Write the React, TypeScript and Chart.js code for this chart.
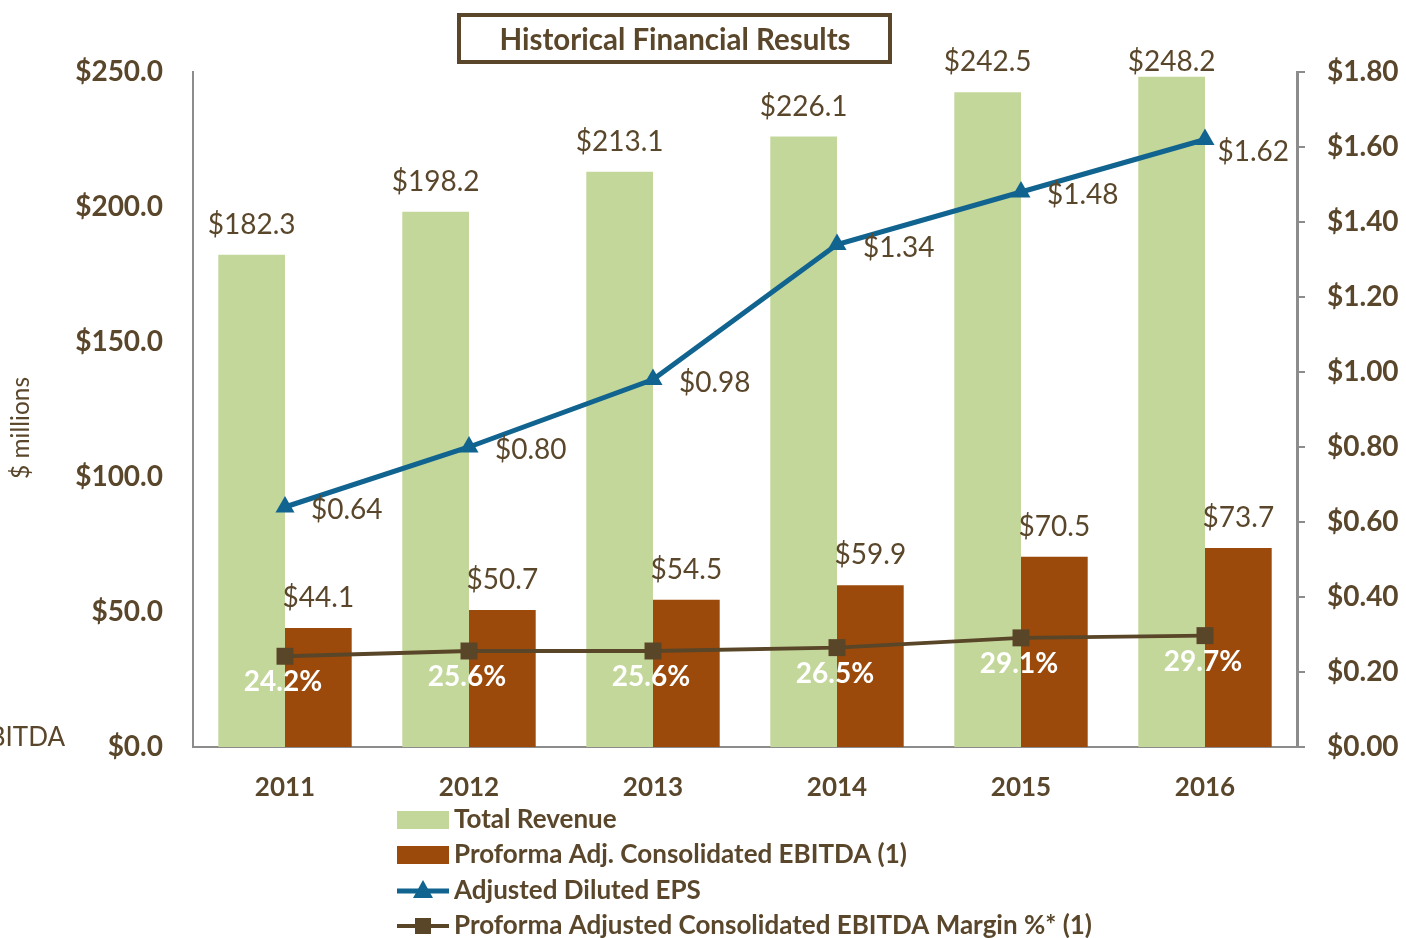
import React, { useEffect, useRef } from "react";
import { Chart, registerables } from "chart.js";

Chart.register(...registerables);

const years = ["2011", "2012", "2013", "2014", "2015", "2016"];
const totalRevenue = [182.3, 198.2, 213.1, 226.1, 242.5, 248.2];
const ebitda = [44.1, 50.7, 54.5, 59.9, 70.5, 73.7];
const eps = [0.64, 0.8, 0.98, 1.34, 1.48, 1.62];
const marginPct = [24.2, 25.6, 25.6, 26.5, 29.1, 29.7];

const seriesNames = [
  "Total Revenue",
  "Proforma Adj. Consolidated EBITDA (1)",
  "Adjusted Diluted EPS",
  "Proforma Adjusted Consolidated EBITDA Margin %* (1)",
];

const FONT = "Lato, 'Open Sans', sans-serif";
const TEXT = "#5a472b";
const GREEN = "#c4d79b";
const BROWN = "#9c4a0b";
const BLUE = "#11648f";
const DARK = "#594528";
const AXIS = "#8c8c8c";

const valueLabels = {
  id: "valueLabels",
  afterDatasetsDraw(chart: any) {
    const ctx = chart.ctx;
    const area = chart.chartArea;
    ctx.save();
    chart.data.datasets.forEach((ds: any, i: number) => {
      const meta = chart.getDatasetMeta(i);
      meta.data.forEach((el: any, j: number) => {
        if (ds.kind === "bar") {
          ctx.font = `400 28px ${FONT}`;
          ctx.fillStyle = TEXT;
          ctx.textAlign = "center";
          ctx.textBaseline = "middle";
          const y = Math.max(el.y - 30, area.top - 10);
          ctx.fillText("$" + ds.data[j].toFixed(1), el.x, y);
        } else if (ds.kind === "eps") {
          ctx.font = `400 28px ${FONT}`;
          ctx.fillStyle = TEXT;
          ctx.textAlign = "left";
          ctx.textBaseline = "middle";
          const txt = "$" + ds.data[j].toFixed(2);
          const w = ctx.measureText(txt).width;
          let x = el.x + 26;
          let y = el.y + 3;
          const maxX = area.right - w - 8;
          if (x > maxX) {
            x = maxX;
            y = el.y + 12;
          }
          ctx.fillText(txt, x, y);
        } else if (ds.kind === "margin") {
          ctx.font = `700 28px ${FONT}`;
          ctx.fillStyle = "#ffffff";
          ctx.textAlign = "center";
          ctx.textBaseline = "middle";
          ctx.fillText(marginPct[j].toFixed(1) + "%", el.x - 2, el.y + 26);
        }
      });
    });
    ctx.restore();
  },
};

const decorations = {
  id: "decorations",
  afterDraw(chart: any) {
    const ctx = chart.ctx;
    ctx.save();
    // Title box
    ctx.fillStyle = "#ffffff";
    ctx.fillRect(459, 15, 431, 47);
    ctx.strokeStyle = "#5a472b";
    ctx.lineWidth = 4;
    ctx.strokeRect(459, 15, 431, 47);
    ctx.fillStyle = TEXT;
    ctx.font = `700 29.5px ${FONT}`;
    ctx.textAlign = "center";
    ctx.textBaseline = "middle";
    ctx.fillText("Historical Financial Results", 675, 40);

    // Y axis title
    ctx.save();
    ctx.translate(21, 428);
    ctx.rotate(-Math.PI / 2);
    ctx.font = `400 24.5px ${FONT}`;
    ctx.fillStyle = TEXT;
    ctx.textAlign = "center";
    ctx.textBaseline = "middle";
    ctx.fillText("$ millions", 0, 0);
    ctx.restore();

    // clipped leftover label
    ctx.font = `400 26px ${FONT}`;
    ctx.fillStyle = TEXT;
    ctx.textAlign = "right";
    ctx.textBaseline = "middle";
    ctx.fillText("EBITDA", 65, 738);

    // Legend
    const rows = [820, 855, 891, 926];
    const x0 = 397;
    const sw = 52;
    chart.data.datasets.forEach((ds: any, i: number) => {
      const y = rows[i];
      if (ds.kind === "bar") {
        ctx.fillStyle = ds.backgroundColor;
        ctx.fillRect(x0, y - 9, sw, 18);
      } else {
        ctx.strokeStyle = ds.borderColor;
        ctx.lineWidth = ds.borderWidth;
        ctx.beginPath();
        ctx.moveTo(x0, y);
        ctx.lineTo(x0 + sw, y);
        ctx.stroke();
        ctx.fillStyle = ds.borderColor;
        const cx = x0 + sw / 2;
        if (ds.pointStyle === "triangle") {
          ctx.beginPath();
          ctx.moveTo(cx, y - 11);
          ctx.lineTo(cx + 10, y + 7);
          ctx.lineTo(cx - 10, y + 7);
          ctx.closePath();
          ctx.fill();
        } else {
          ctx.fillRect(cx - 8, y - 8, 16, 16);
        }
      }
      ctx.fillStyle = TEXT;
      ctx.font = `700 26px ${FONT}`;
      ctx.textAlign = "left";
      ctx.textBaseline = "middle";
      ctx.fillText(ds.label, x0 + sw + 5, y);
    });
    ctx.restore();
  },
};

export default function App() {
  const ref = useRef<HTMLCanvasElement | null>(null);
  useEffect(() => {
    if (!ref.current) return;
    const chart = new Chart(ref.current, {
      type: "bar",
      data: {
        labels: years,
        datasets: [
          {
            type: "bar",
            kind: "bar",
            label: seriesNames[0],
            data: totalRevenue,
            backgroundColor: GREEN,
            yAxisID: "y",
            order: 3,
            categoryPercentage: 0.725,
            barPercentage: 1.0,
          } as any,
          {
            type: "bar",
            kind: "bar",
            label: seriesNames[1],
            data: ebitda,
            backgroundColor: BROWN,
            yAxisID: "y",
            order: 3,
            categoryPercentage: 0.725,
            barPercentage: 1.0,
          } as any,
          {
            type: "line",
            kind: "eps",
            label: seriesNames[2],
            data: eps,
            borderColor: BLUE,
            backgroundColor: BLUE,
            borderWidth: 5,
            pointStyle: "triangle",
            pointRadius: 11,
            pointBorderWidth: 0,
            pointBackgroundColor: BLUE,
            yAxisID: "y1",
            order: 1,
            tension: 0,
          } as any,
          {
            type: "line",
            kind: "margin",
            label: seriesNames[3],
            data: marginPct.map((v) => v / 100),
            borderColor: DARK,
            backgroundColor: DARK,
            borderWidth: 4,
            pointStyle: "rect",
            pointRadius: 12,
            pointBorderWidth: 0,
            pointBackgroundColor: DARK,
            yAxisID: "y1",
            order: 2,
            tension: 0,
          } as any,
        ],
      },
      options: {
        animation: false,
        responsive: false,
        maintainAspectRatio: false,
        layout: { padding: { top: 72, left: 0, right: 0, bottom: 0 } },
        plugins: {
          legend: { display: false },
          title: { display: false },
          tooltip: { enabled: false },
        },
        scales: {
          x: {
            offset: true,
            grid: { display: false, drawTicks: false },
            border: { display: true, color: AXIS, width: 2 },
            ticks: {
              color: TEXT,
              font: { family: FONT, size: 26, weight: "bold" },
              padding: 25,
            },
            afterFit(scale: any) {
              scale.height = 191;
            },
          },
          y: {
            position: "left",
            min: 0,
            max: 250,
            ticks: {
              stepSize: 50,
              color: TEXT,
              font: { family: FONT, size: 28, weight: "bold" },
              padding: 30,
              callback: (v: any) => "$" + Number(v).toFixed(1),
            },
            grid: { display: false, drawTicks: false },
            border: { display: true, color: AXIS, width: 2 },
            afterFit(scale: any) {
              scale.width = 193;
            },
          },
          y1: {
            position: "right",
            min: 0,
            max: 1.8,
            ticks: {
              stepSize: 0.2,
              color: TEXT,
              font: { family: FONT, size: 28, weight: "bold" },
              padding: 22,
              callback: (v: any) => "$" + Number(v).toFixed(2),
            },
            grid: {
              display: true,
              drawOnChartArea: false,
              drawTicks: true,
              tickLength: 8,
              color: AXIS,
              lineWidth: 2,
            },
            border: { display: true, color: AXIS, width: 3 },
            afterFit(scale: any) {
              scale.width = 109;
            },
          },
        },
      } as any,
      plugins: [valueLabels, decorations],
    });
    return () => chart.destroy();
  }, []);
  return (
    <div style={{ position: "fixed", left: 0, top: 0, width: 1406, height: 938, background: "#fff" }}>
      <canvas ref={ref} width={1406} height={938} style={{ display: "block", width: 1406, height: 938 }} />
    </div>
  );
}
